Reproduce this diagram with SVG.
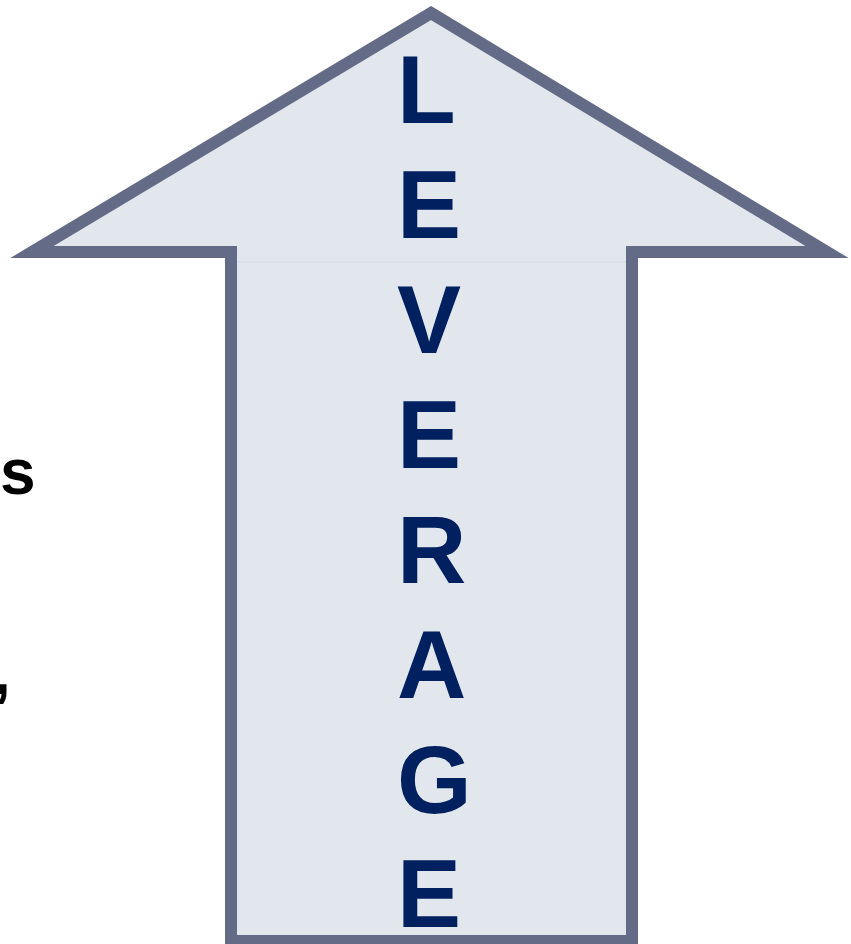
<svg xmlns="http://www.w3.org/2000/svg" width="851" height="944" viewBox="0 0 851 944">
  <style>
    .arrow { fill: #e1e7ec; stroke: #646b87; stroke-width: 12; stroke-linejoin: miter; stroke-miterlimit: 10; }
    .lev { font-family: "Liberation Sans", Arial, sans-serif; font-weight: bold; font-size: 96px; fill: #002060; }
    .side { font-family: "Liberation Sans", Arial, sans-serif; font-weight: bold; font-size: 64px; fill: #000000; }
  </style>
  <rect width="851" height="944" fill="#ffffff"/>
  <g id="arrow">
    <path class="arrow" d="M431,13 L827,252 L632,252 L632,941 L231,941 L231,252 L32,252 Z"/>
    <line x1="237" y1="262" x2="626" y2="262" stroke="#d3d9df" stroke-width="1"/>
  </g>
  <g id="leverage">
    <text class="lev" x="397" y="123">L</text>
    <text class="lev" x="397" y="238">E</text>
    <text class="lev" x="397" y="353">V</text>
    <text class="lev" x="397" y="468">E</text>
    <text class="lev" x="397" y="583">R</text>
    <text class="lev" x="397" y="698">A</text>
    <text class="lev" x="397" y="813">G</text>
    <text class="lev" x="397" y="927">E</text>
  </g>
  <g id="side-text">
    <text class="side" x="0" y="494">s</text>
    <text class="side" x="-7" y="694">,</text>
  </g>
</svg>
